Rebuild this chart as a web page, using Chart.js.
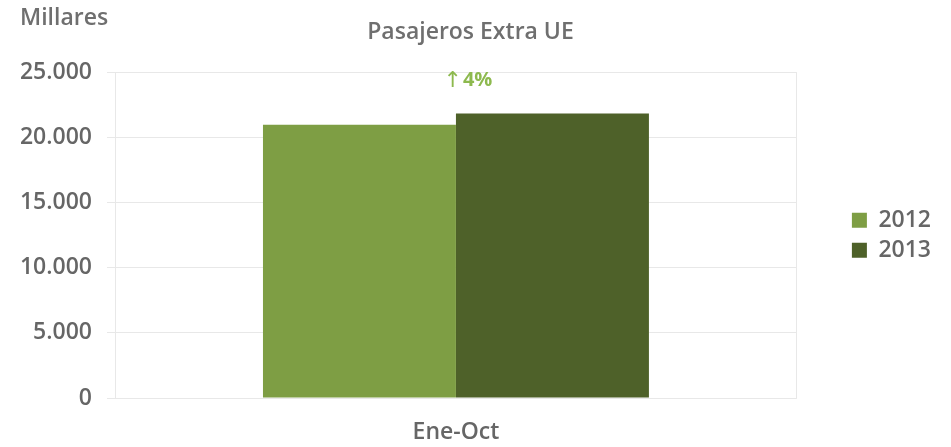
<!DOCTYPE html>
<html>
<head>
<meta charset="utf-8">
<script src="https://cdn.jsdelivr.net/npm/chart.js@4"></script>
<style>
  html, body { margin: 0; padding: 0; background: #fff; }
  #wrap { width: 951px; height: 447px; }
</style>
</head>
<body>
<div id="wrap"><canvas id="myChart" width="951" height="447"></canvas></div>
<script>
var categories = ["Ene-Oct"];
var years = ["2012", "2013"];
var values2012 = [21000];
var values2013 = [21850];
var yTicks = [0, 5000, 10000, 15000, 20000, 25000];

var FONT = "'Open Sans', 'Segoe UI', sans-serif";

function miles(v) {
  return String(v).replace(/\B(?=(\d{3})+(?!\d))/g, ".");
}

var extras = {
  id: "extras",
  afterDatasetsDraw: function (chart) {
    var ctx = chart.ctx;
    var xs = chart.scales.x, ys = chart.scales.y;
    ctx.save();
    // unidad del eje
    ctx.font = "600 23px " + FONT;
    ctx.fillStyle = "#6f6f6f";
    ctx.textAlign = "left";
    ctx.textBaseline = "middle";
    ctx.fillText("Millares", 20, 18);
    // variacion 2013 vs 2012
    var pct = Math.round((values2013[0] / values2012[0] - 1) * 100);
    var txt = pct + "%";
    var arrowFont = "400 22px 'DejaVu Sans', sans-serif";
    var numFont = "700 20px " + FONT;
    ctx.font = arrowFont;
    var wa = ctx.measureText("\u2191").width;
    ctx.font = numFont;
    var wn = ctx.measureText(txt).width;
    var xc = xs.getPixelForValue(0) + 12;
    var yc = ys.getPixelForValue(values2013[0]) - 33;
    var x0 = xc - (wa + wn + 1) / 2;
    ctx.fillStyle = "#8db94e";
    ctx.font = arrowFont;
    ctx.fillText("\u2191", x0, yc + 1);
    ctx.font = numFont;
    ctx.fillText(txt, x0 + wa + 1, yc);
    ctx.restore();
  }
};

new Chart(document.getElementById("myChart"), {
  type: "bar",
  data: {
    labels: categories,
    datasets: [
      { label: years[0], data: values2012, backgroundColor: "#7e9e44" },
      { label: years[1], data: values2013, backgroundColor: "#4e6129" }
    ]
  },
  plugins: [extras],
  options: {
    responsive: false,
    animation: false,
    layout: { padding: { left: 0, right: 10, top: 0, bottom: 0 } },
    datasets: { bar: { categoryPercentage: 0.566, barPercentage: 1 } },
    plugins: {
      tooltip: { enabled: false },
      title: {
        display: true,
        text: "Pasajeros Extra UE",
        color: "#6f6f6f",
        font: { family: FONT, size: 23, weight: "600" },
        padding: { top: 19, bottom: 26 }
      },
      legend: {
        position: "right",
        fullSize: false,
        align: "center",
        labels: {
          color: "#666666",
          font: { family: FONT, size: 23, weight: "600" },
          boxWidth: 15,
          boxHeight: 15,
          padding: 7
        }
      }
    },
    scales: {
      x: {
        afterFit: function (s) { s.height = 49; },
        grid: { color: "#e8e8e8", drawTicks: false, offset: true },
        border: { display: false },
        ticks: { color: "#666666", padding: 21, font: { family: FONT, size: 23, weight: "600" } }
      },
      y: {
        min: 0,
        max: 25000,
        afterBuildTicks: function (s) { s.ticks = yTicks.map(function (v) { return { value: v }; }); },
        afterFit: function (s) { s.width = 115; },
        grid: { color: "#e8e8e8", tickLength: 8 },
        border: { display: false },
        ticks: {
          color: "#666666",
          padding: 15,
          font: { family: FONT, size: 23, weight: "600" },
          callback: function (v) { return miles(v); }
        }
      },
      y2: {
        type: "linear",
        position: "right",
        grid: { display: false },
        border: { display: false },
        ticks: { display: false },
        afterFit: function (s) { s.width = 48; }
      }
    }
  }
});
</script>
</body>
</html>
